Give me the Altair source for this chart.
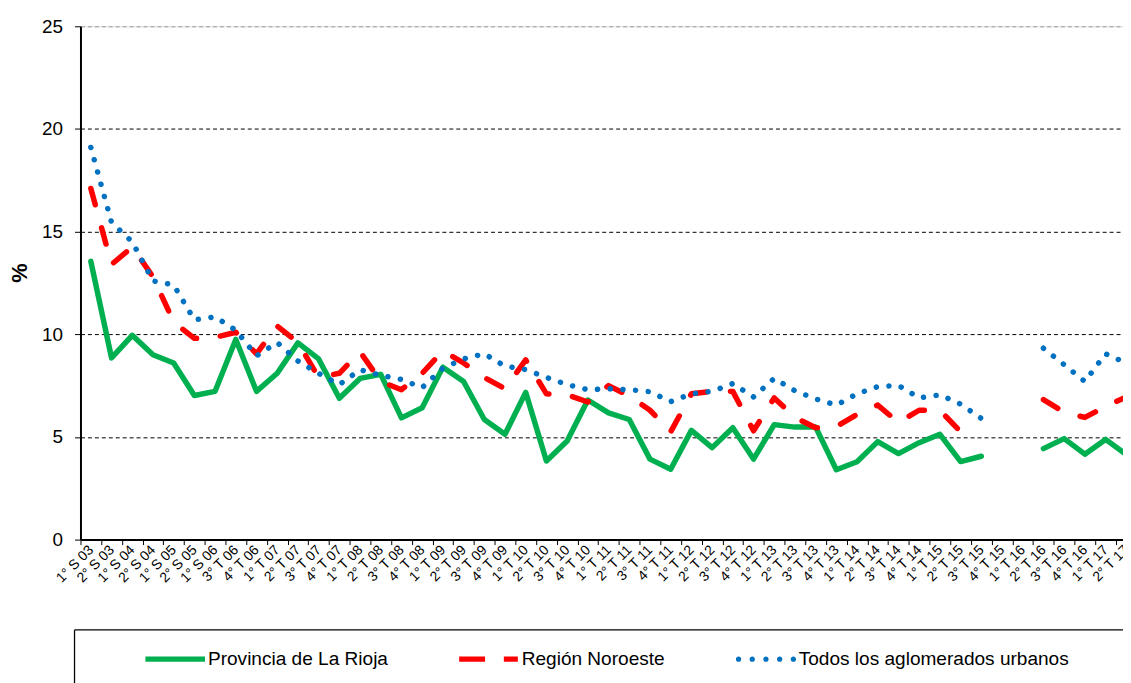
import json
import altair as alt
import pandas as pd

# ---------------- data ----------------
periodos = [
    "1° S 03", "2° S 03", "1° S 04", "2° S 04", "1° S 05", "2° S 05", "1° S 06",
    "3° T 06", "4° T 06",
    "1° T 07", "2° T 07", "3° T 07", "4° T 07",
    "1° T 08", "2° T 08", "3° T 08", "4° T 08",
    "1° T 09", "2° T 09", "3° T 09", "4° T 09",
    "1° T 10", "2° T 10", "3° T 10", "4° T 10",
    "1° T 11", "2° T 11", "3° T 11", "4° T 11",
    "1° T 12", "2° T 12", "3° T 12", "4° T 12",
    "1° T 13", "2° T 13", "3° T 13", "4° T 13",
    "1° T 14", "2° T 14", "3° T 14", "4° T 14",
    "1° T 15", "2° T 15", "3° T 15", "4° T 15",
    "1° T 16", "2° T 16", "3° T 16", "4° T 16",
    "1° T 17", "2° T 17",
]

la_rioja = [13.55, 8.85, 9.95, 9.0, 8.6, 7.02, 7.22, 9.75, 7.22, 8.1,
            9.58, 8.8, 6.88, 7.85, 8.05, 5.93, 6.42, 8.4, 7.7, 5.85,
            5.13, 7.17, 3.83, 4.8, 6.8, 6.17, 5.85, 3.92, 3.43, 5.32,
            4.48, 5.45, 3.92, 5.6, 5.48, 5.48, 3.4, 3.79, 4.77, 4.19,
            4.72, 5.13, 3.8, 4.06, None, None, 4.43, 4.92, 4.16, 4.88,
            4.15]

noroeste = [17.1, 13.4, 14.25, 12.8, 10.6, 9.8, 9.85, 10.1, 9.05, 10.4,
            9.6, 7.9, 8.1, 9.15, 7.7, 7.3, 8.1, 9.2, 8.6, 7.9,
            7.35, 8.75, 7.1, 7.05, 6.7, 7.5, 7.0, 6.3, 5.25, 7.1,
            7.22, 7.22, 5.3, 6.9, 5.95, 5.45, 5.5, 6.1, 6.55, 5.7,
            6.3, 6.3, 5.25, None, None, None, 6.82, 6.2, 5.95, 6.48,
            6.95]

aglomerados = [19.1, 15.45, 14.5, 12.6, 12.4, 10.7, 10.85, 10.2, 8.95, 9.6,
               8.7, 8.1, 7.55, 8.27, 8.0, 7.8, 7.4, 8.35, 8.8, 9.05,
               8.45, 8.28, 7.9, 7.55, 7.3, 7.35, 7.3, 7.2, 6.72, 7.1,
               7.22, 7.6, 6.95, 7.85, 7.25, 6.85, 6.55, 7.1, 7.45, 7.51,
               6.9, 7.05, 6.6, 5.9, None, None, 9.32, 8.52, 7.7, 9.05,
               8.6]

series = ["Provincia de La Rioja", "Región Noroeste", "Todos los aglomerados urbanos"]
colores = ["#00B050", "#FF0000", "#0070C0"]
y_ticks = [0, 5, 10, 15, 20, 25]

# legend glyphs (unit square coordinates, scaled by the symbol size)
legend_shapes = [
    "M-1,-0.09H1V0.09H-1Z",
    "M-1,-0.09H-0.13V0.09H-1Z M0.5,-0.09H0.97V0.09H0.5Z",
    " ".join(
        f"M{c - 0.09:.3f},0 a0.09,0.09 0 1,0 0.18,0 a0.09,0.09 0 1,0 -0.18,0"
        for c in (-0.92, -0.46, 0.0, 0.46, 0.92)
    ),
]

# ---------------- table ----------------
rows = []
for name, vals in zip(series, [la_rioja, noroeste, aglomerados]):
    tramo = 0
    for i, v in enumerate(vals):
        if v is None:
            tramo += 1
            continue
        rows.append({"serie": name, "idx": i, "periodo": periodos[i],
                     "valor": v, "tramo": f"{name} {tramo}"})
df = pd.DataFrame(rows)

FONT = "Liberation Sans"
STEP = 1056 / 50.63

label_expr = "[" + ",".join(json.dumps(p, ensure_ascii=False) for p in periodos) + "][datum.value]"

x_enc = alt.X(
    "idx:Q",
    scale=alt.Scale(domain=[-0.5, 50.13], range=[0, 1056], nice=False, zero=False),
    axis=alt.Axis(
        values=list(range(len(periodos))),
        labelExpr=label_expr,
        labelAngle=-45,
        labelAlign="right",
        labelBaseline="middle",
        labelFontSize=14,
        labelFont=FONT,
        labelColor="#000000",
        labelPadding=3,
        tickOffset=-STEP / 2,
        labelOffset=STEP / 2,
        tickSize=5,
        tickColor="#000000",
        tickWidth=1,
        domainColor="#000000",
        domainWidth=2,
        grid=False,
        labelOverlap=False,
        labelBound=False,
        labelFlush=False,
    ),
    title=None,
)

y_enc = alt.Y(
    "valor:Q",
    scale=alt.Scale(domain=[0, 25], nice=False, zero=True),
    axis=alt.Axis(
        values=y_ticks,
        labelFontSize=19,
        labelFont=FONT,
        labelColor="#000000",
        labelPadding=12,
        tickSize=6,
        tickColor="#000000",
        domainColor="#000000",
        domainWidth=2,
        grid=True,
        gridColor={"condition": {"test": "datum.value === 25", "value": "#9A9A9A"},
                   "value": "#000000"},
        gridDash=[4, 3],
        gridWidth=1,
        title="%",
        titleFont=FONT,
        titleFontSize=22,
        titleFontWeight="bold",
        titleColor="#000000",
        titlePadding=10,
        titleY=248,
    ),
)

base = alt.Chart(df).encode(x=x_enc, y=y_enc, detail="tramo:N")

linea_rioja = base.transform_filter(alt.datum.serie == series[0]).mark_line(
    color=colores[0], strokeWidth=5.5, strokeCap="round", strokeJoin="round")
linea_noa = base.transform_filter(alt.datum.serie == series[1]).mark_line(
    color=colores[1], strokeWidth=5.5, strokeCap="round", strokeJoin="round",
    strokeDash=[17, 24])
linea_total = base.transform_filter(alt.datum.serie == series[2]).mark_line(
    color=colores[2], strokeWidth=5.5, strokeCap="round", strokeJoin="round",
    strokeDash=[0.1, 12.7])

leyenda_cfg = dict(
    orient="none", legendX=65.4, legendY=607, direction="horizontal",
    title=None, labelFontSize=19.2, labelFont=FONT, labelColor="#000000",
    labelLimit=0, symbolSize=3600, symbolStrokeWidth=0, labelOffset=3,
    columnPadding=71, padding=0,
)

leyenda = alt.Chart(df).transform_filter("false").mark_point(
    filled=True, opacity=1, strokeWidth=0
).encode(
    x=x_enc, y=y_enc,
    color=alt.Color("serie:N", scale=alt.Scale(domain=series, range=colores),
                    legend=alt.Legend(**leyenda_cfg)),
    shape=alt.Shape("serie:N", scale=alt.Scale(domain=series, range=legend_shapes),
                    legend=alt.Legend(**leyenda_cfg)),
)

marco = alt.Chart(alt.Data(values=[{}]))
marco_sup = marco.mark_rule(color="#000000", strokeWidth=1.3).encode(
    x=alt.value(-6), x2=alt.value(1100), y=alt.value(608))
marco_izq = marco.mark_rule(color="#000000", strokeWidth=1.3).encode(
    x=alt.value(-6), y=alt.value(608), y2=alt.value(700))

chart = alt.layer(
    linea_rioja, linea_noa, linea_total, leyenda, marco_sup, marco_izq
).properties(
    width=1050,
    height=517,
    padding={"left": 73, "top": 16, "right": 0, "bottom": 142},
    autosize=alt.AutoSizeParams(type="none"),
    background="#ffffff",
).configure_view(stroke=None).configure(font=FONT)

chart.save("out.html", embed_options={"renderer": "svg", "actions": False})
